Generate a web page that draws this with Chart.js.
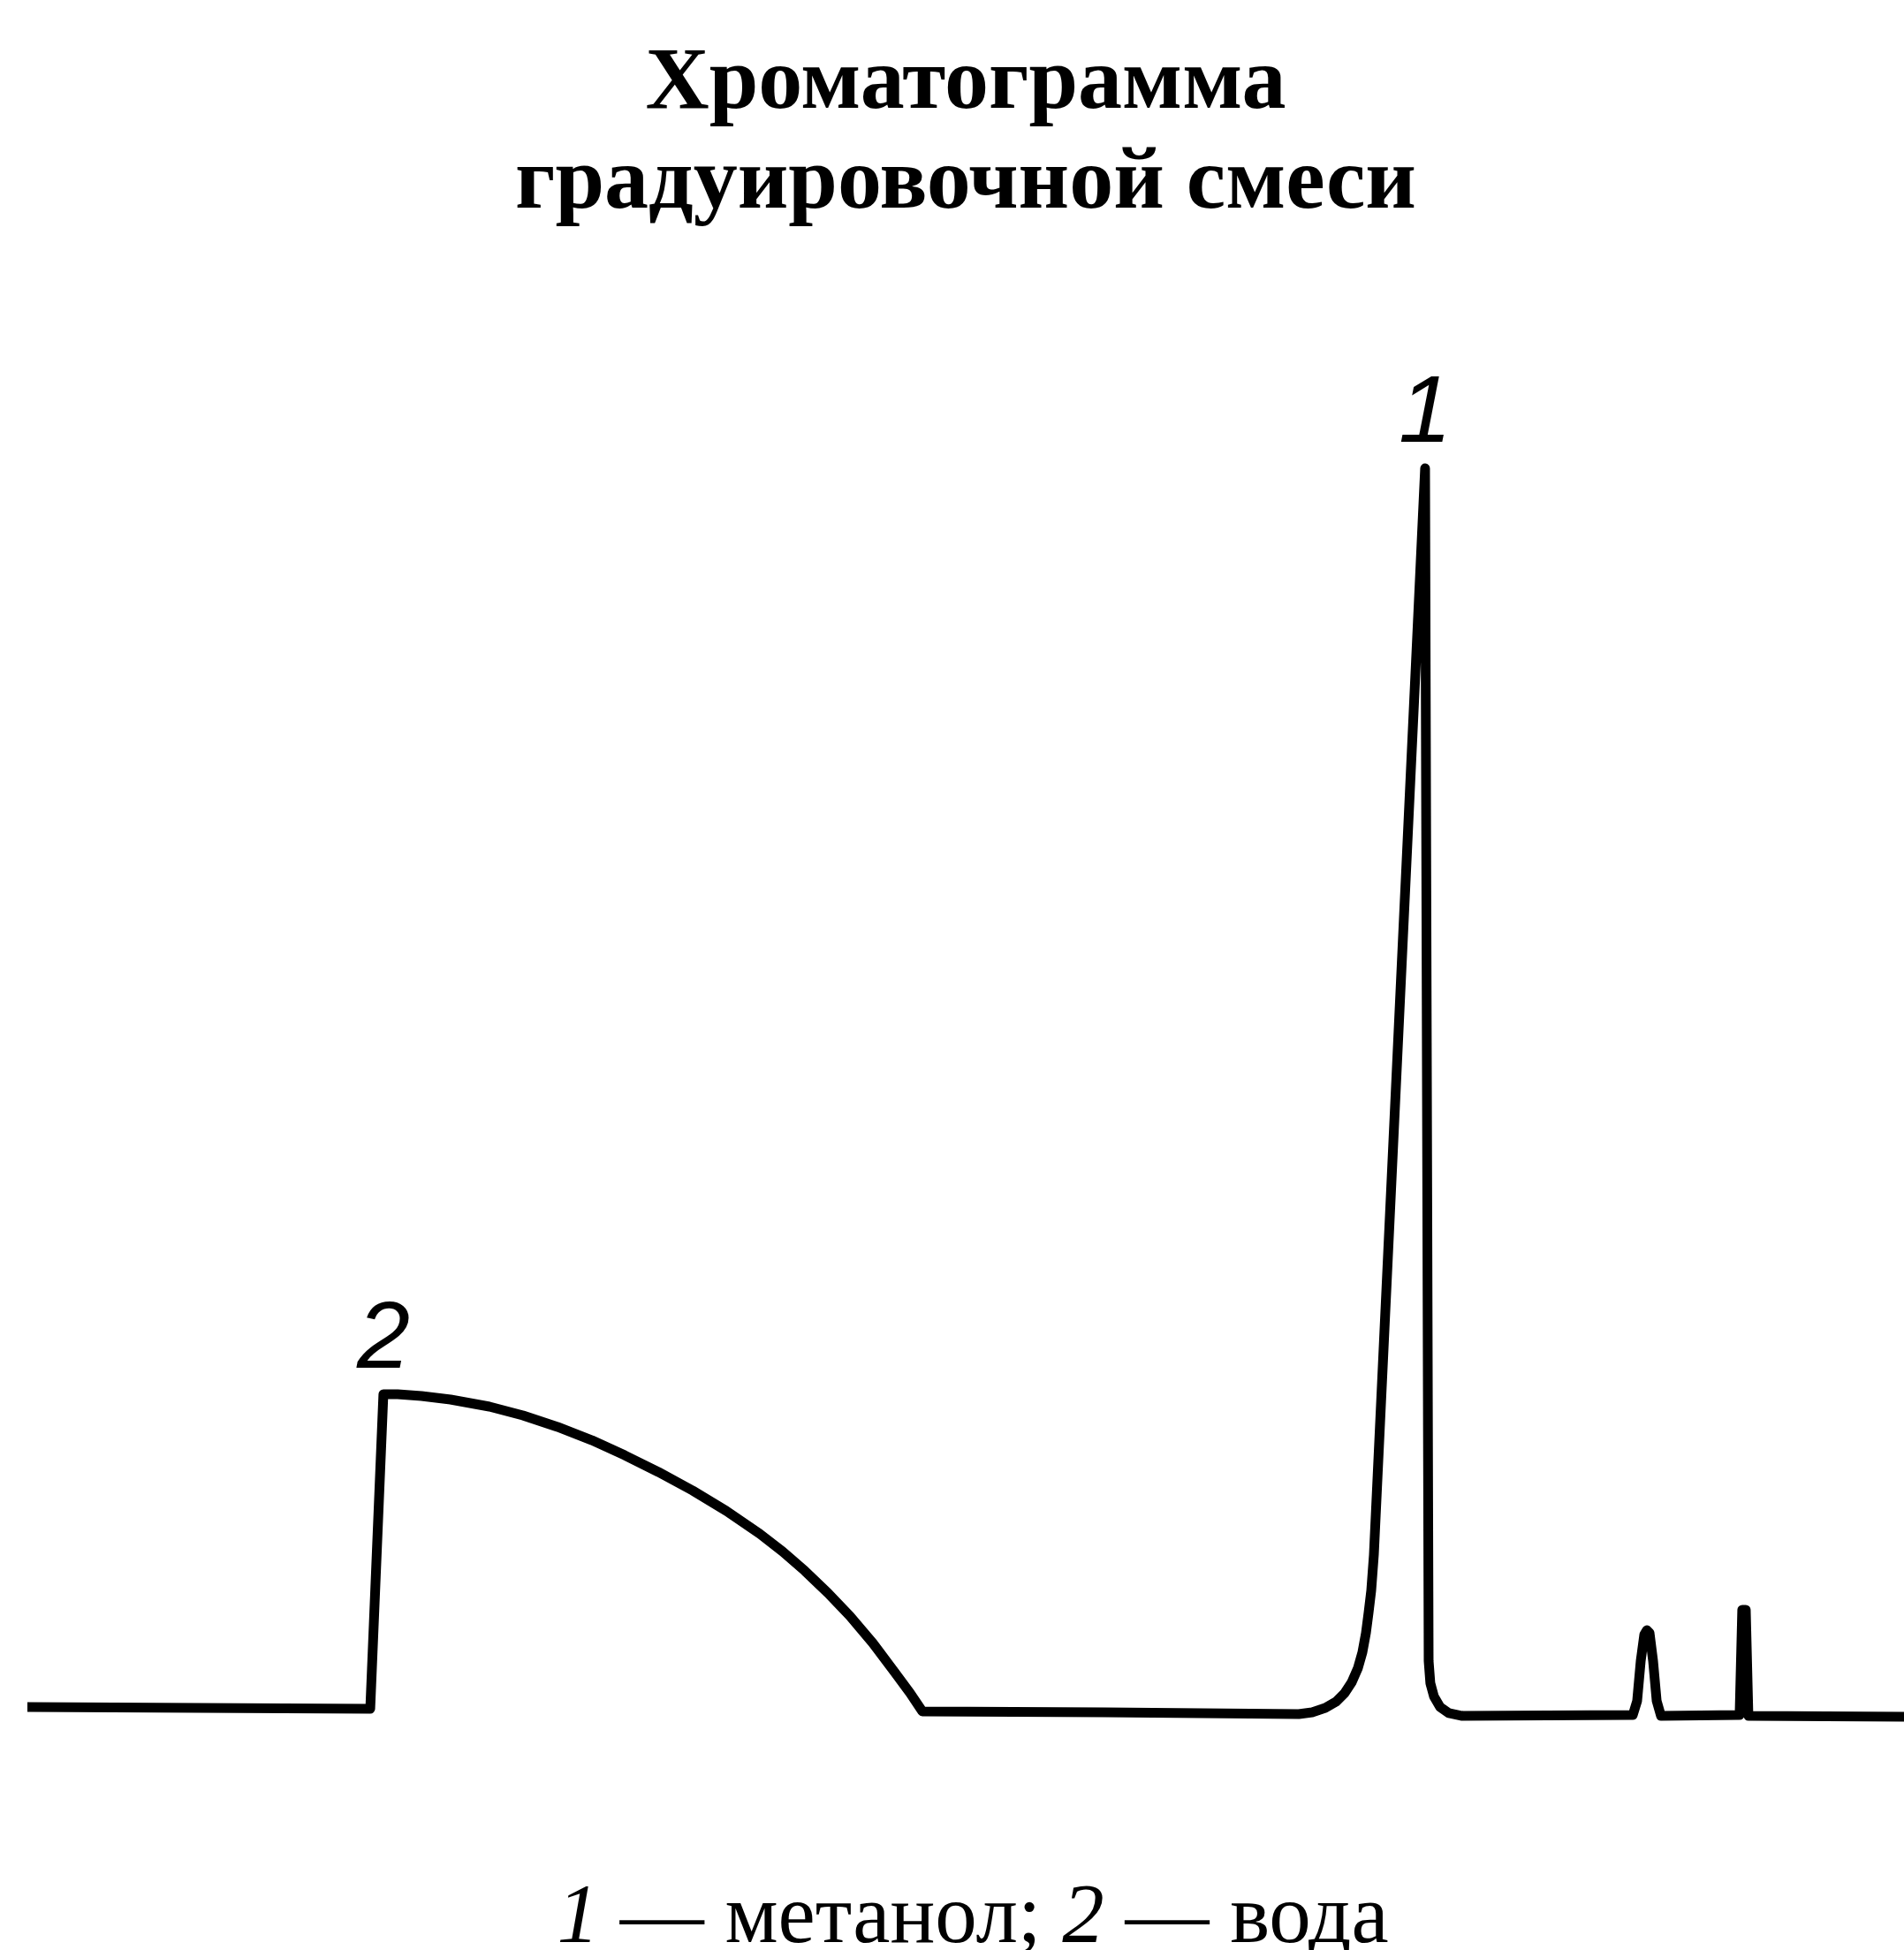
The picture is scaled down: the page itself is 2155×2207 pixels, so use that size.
<!DOCTYPE html>
<html>
<head>
<meta charset="utf-8">
<script src="https://cdn.jsdelivr.net/npm/chart.js@4.4.1/dist/chart.umd.min.js"></script>
<style>
  html, body { margin: 0; padding: 0; background: #fff; }
  #wrap { width: 2155px; height: 2207px; position: relative; }
</style>
</head>
<body>
<div id="wrap"><canvas id="c"></canvas></div>
<script>
// ---- data ----
const titleLines = ['Хроматограмма', 'градуировочной смеси'];

// retention time (arbitrary units, 0..100 across the trace)
const retentionTime = [
  0.00, 18.27, 18.97, 19.73, 21.00, 22.55, 24.62, 26.41, 28.25, 30.08,
  31.83, 33.62, 35.45, 37.24, 39.03, 40.25, 41.43, 42.66, 43.83, 45.06,
  46.23, 47.03, 47.69, 57.39, 67.75, 68.46, 69.16, 69.73, 70.20, 70.57,
  70.90, 71.14, 71.33, 71.47, 71.61, 71.75, 74.48, 74.67, 74.76, 74.95,
  75.28, 75.75, 76.46, 85.55, 85.78, 85.97, 86.16, 86.30, 86.44, 86.63,
  86.82, 87.05, 91.24, 91.38, 91.57, 91.71, 100.00
];
// detector signal (arbitrary units)
const signal = [
  4.00, 3.88, 24.82, 24.82, 24.71, 24.47, 24.00, 23.41, 22.65, 21.76,
  20.76, 19.65, 18.41, 17.06, 15.53, 14.35, 13.06, 11.59, 10.06, 8.24,
  6.29, 4.94, 3.71, 3.65, 3.53, 3.65, 3.94, 4.35, 4.94, 5.65,
  6.59, 7.65, 8.94, 10.29, 11.76, 14.12, 86.47, 7.06, 5.59, 4.71,
  4.00, 3.59, 3.41, 3.47, 4.41, 7.06, 8.82, 9.12, 8.94, 7.06,
  4.41, 3.41, 3.47, 10.47, 10.47, 3.41, 3.35
];

// peak numbers and the point each one sits above
const peakLabels = ['2', '1'];
const peakLabelIndex = [2, 36];

// caption below the chart
const captionTexts = ['1', ' \u2014 метанол; ', '2', ' \u2014 вода'];
const captionItalic = [true, false, true, false];

// ---- plugins ----
const peakLabelPlugin = {
  id: 'peakLabels',
  afterDatasetsDraw(chart) {
    const ctx = chart.ctx;
    const xs = chart.scales.x, ys = chart.scales.y;
    ctx.save();
    ctx.fillStyle = '#000';
    ctx.font = 'italic 108px "Liberation Sans", Arial, sans-serif';
    ctx.textAlign = 'center';
    ctx.textBaseline = 'alphabetic';
    peakLabels.forEach((lab, i) => {
      const idx = peakLabelIndex[i];
      const px = xs.getPixelForValue(retentionTime[idx]);
      const py = ys.getPixelForValue(signal[idx]);
      ctx.fillText(lab, px, py - 30);
    });
    ctx.restore();
  }
};

const captionPlugin = {
  id: 'caption',
  afterDraw(chart) {
    const ctx = chart.ctx;
    const fam = '"Liberation Serif", "Times New Roman", serif';
    const size = 95;
    ctx.save();
    ctx.fillStyle = '#000';
    ctx.textBaseline = 'alphabetic';
    ctx.textAlign = 'left';
    const fonts = captionItalic.map(it => (it ? 'italic ' : '') + size + 'px ' + fam);
    let total = 0;
    const widths = captionTexts.map((t, i) => { ctx.font = fonts[i]; const w = ctx.measureText(t).width; total += w; return w; });
    const ca = chart.chartArea;
    let x = (ca.left + ca.right) / 2 - total / 2 + 8;
    const y = chart.height - 9;
    captionTexts.forEach((t, i) => {
      ctx.font = fonts[i];
      ctx.fillText(t, x, y);
      x += widths[i];
    });
    ctx.restore();
  }
};

new Chart(document.getElementById('c'), {
  type: 'line',
  data: {
    datasets: [{
      label: 'Хроматограмма',
      data: retentionTime.map((t, i) => ({ x: t, y: signal[i] })),
      borderColor: '#000',
      borderWidth: 11,
      pointRadius: 0,
      tension: 0,
      fill: false,
      borderJoinStyle: 'round',
      borderCapStyle: 'round'
    }]
  },
  options: {
    responsive: true,
    maintainAspectRatio: false,
    animation: false,
    devicePixelRatio: 1,
    layout: { padding: { left: 31, right: 0, top: 0, bottom: 207 } },
    scales: {
      x: { type: 'linear', min: 0, max: 100, display: false },
      y: { type: 'linear', min: 0, max: 100, display: false }
    },
    plugins: {
      legend: { display: false },
      tooltip: { enabled: false },
      title: {
        display: true,
        text: titleLines,
        color: '#000',
        font: { family: '"Liberation Serif", "Times New Roman", serif', size: 100, weight: 'bold', lineHeight: 1.13 },
        padding: { top: 40, bottom: 34 }
      }
    }
  },
  plugins: [peakLabelPlugin, captionPlugin]
});
</script>
</body>
</html>
